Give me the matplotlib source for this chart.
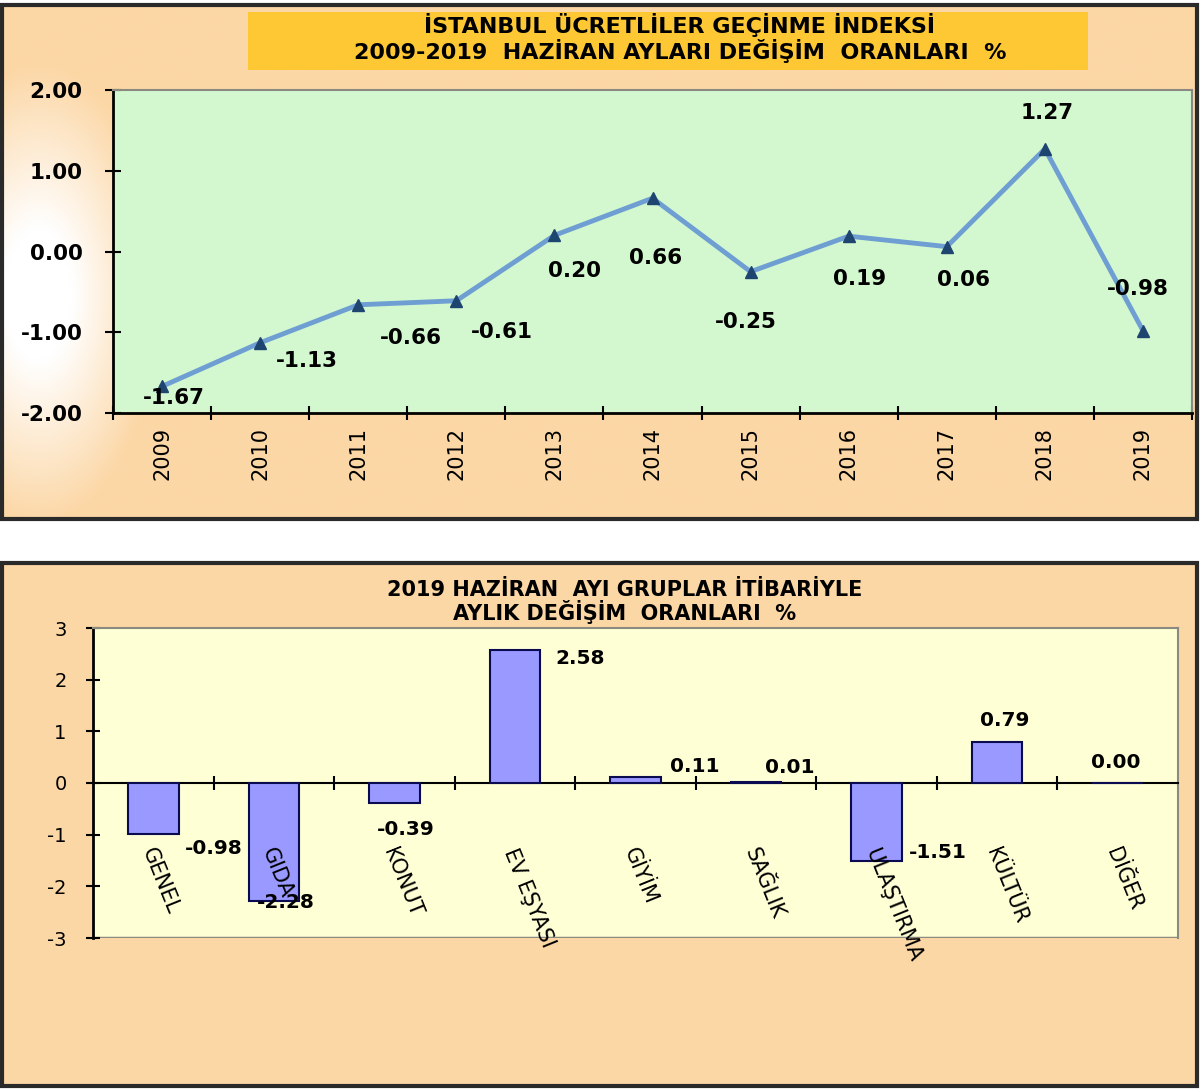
import numpy as np
import matplotlib
matplotlib.use("Agg")
import matplotlib.pyplot as plt
from matplotlib.patches import Rectangle

# --- data ---
years = ["2009", "2010", "2011", "2012", "2013", "2014", "2015", "2016", "2017", "2018", "2019"]
yearly_change = [-1.67, -1.13, -0.66, -0.61, 0.20, 0.66, -0.25, 0.19, 0.06, 1.27, -0.98]
top_yticks = [-2, -1, 0, 1, 2]
top_ytick_labels = ["-2.00", "-1.00", "0.00", "1.00", "2.00"]

groups = ["GENEL", "GIDA", "KONUT", "EV EŞYASI", "GİYİM", "SAĞLIK", "ULAŞTIRMA", "KÜLTÜR", "DİĞER"]
group_change = [-0.98, -2.28, -0.39, 2.58, 0.11, 0.01, -1.51, 0.79, 0.00]
bottom_yticks = [-3, -2, -1, 0, 1, 2, 3]

top_title = "İSTANBUL ÜCRETLİLER GEÇİNME İNDEKSİ\n2009-2019  HAZİRAN AYLARI DEĞİŞİM  ORANLARI  %"
bottom_title = "2019 HAZİRAN  AYI GRUPLAR İTİBARİYLE\nAYLIK DEĞİŞİM  ORANLARI  %"

# label offsets in pixels (layout only)
line_label_off = [(12, -12), (47, -18), (53, -33), (46, -31), (20, -36), (3, -60),
                  (-5, -50), (11, -43), (17, -33), (2, 36), (-5, 42)]
bar_label_off = [(60, -15), (12, -2), (11, -26), (65, -9), (59, 11), (34, 15),
                 (61, 9), (8, 22), (-2, 21)]

plt.rcParams["font.family"] = ["DejaVu Sans"]

W, H = 1200, 1090
fig = plt.figure(figsize=(W / 100, H / 100), dpi=100)
fig.patch.set_facecolor("white")

def fx(px):
    return px / W

def fy(py):
    return 1 - py / H

peach = "#FCD7A6"

# top panel background with soft white glow on the left
bg = fig.add_axes([fx(2), fy(519), fx(1195), (519 - 5) / H], zorder=0)
gx, gy = np.meshgrid(np.linspace(0, 1195, 400), np.linspace(0, 514, 200))
d = np.sqrt(((gx - 35) / 120) ** 2 + ((gy - 290) / 230) ** 2)
a = np.clip(1.4 * (1 - d), 0, 1)[..., None]
c_peach = np.array([252, 215, 166]) / 255
img = c_peach * (1 - a) + np.array([1, 1, 1]) * a
bg.imshow(img, extent=[0, 1, 0, 1], aspect="auto", origin="upper")
bg.set_axis_off()
fig.patches.append(Rectangle((fx(2), fy(519)), fx(1195), (519 - 5) / H, transform=fig.transFigure,
                             fill=False, edgecolor="#2a2a2a", linewidth=3, zorder=1))

# bottom panel background
fig.patches.append(Rectangle((fx(2), fy(1086)), fx(1195), (1086 - 563) / H, transform=fig.transFigure,
                             facecolor=peach, edgecolor="#2a2a2a", linewidth=3, zorder=0))

# title box top
fig.patches.append(Rectangle((fx(248), fy(70)), fx(840), 58 / H, transform=fig.transFigure,
                             facecolor="#FDC833", edgecolor="none", zorder=1))
fig.text(fx(680), fy(38), top_title, ha="center", va="center", fontsize=16,
         fontweight="bold", linespacing=1.1, zorder=3)

# --- top line chart ---
ax1 = fig.add_axes([fx(113), fy(413), fx(1192 - 113), (413 - 90) / H], zorder=2)
ax1.set_facecolor("#D3F8D0")
x1 = np.arange(len(years))
ax1.plot(x1, yearly_change, color="#6F9FD2", linewidth=3.5, zorder=3)
ax1.plot(x1, yearly_change, linestyle="none", marker="^", markersize=8,
         color="#1E4470", zorder=4)
for xi, v, off in zip(x1, yearly_change, line_label_off):
    ax1.annotate(f"{v:.2f}", (xi, v), xytext=off, textcoords="offset pixels",
                 ha="center", va="center", fontsize=15.5, fontweight="bold", zorder=5)
ax1.set_xlim(-0.5, len(years) - 0.5)
ax1.set_ylim(-2, 2)
ax1.set_yticks(top_yticks)
ax1.set_yticklabels(top_ytick_labels, fontsize=15.5, fontweight="bold")
ax1.set_xticks(np.arange(-0.5, len(years), 1))
ax1.set_xticklabels([])
ax1.set_xticks(x1, minor=True)
ax1.set_xticklabels(years, minor=True, rotation=90, fontsize=15)
ax1.tick_params(axis="x", which="minor", length=0, pad=10)
ax1.tick_params(axis="x", which="major", direction="inout", length=10, width=1.5)
ax1.tick_params(axis="y", direction="inout", length=12, width=1.5, pad=16)
for s in ["left", "bottom"]:
    ax1.spines[s].set_linewidth(2)
    ax1.spines[s].set_color("black")
for s in ["top", "right"]:
    ax1.spines[s].set_linewidth(1.5)
    ax1.spines[s].set_color("#8a8a80")

# --- bottom bar chart ---
fig.text(fx(625), fy(602), bottom_title, ha="center", va="center", fontsize=15,
         fontweight="bold", linespacing=1.05)
ax2 = fig.add_axes([fx(93), fy(938), fx(1178 - 93), (938 - 628) / H], zorder=2)
ax2.set_facecolor("#FFFFD6")
x2 = np.arange(len(groups))
ax2.bar(x2, group_change, width=0.42, color="#9999FF", edgecolor="#0A0A50",
        linewidth=1.5, zorder=3)
for xi, v, off in zip(x2, group_change, bar_label_off):
    ax2.annotate(f"{v:.2f}", (xi, v), xytext=off, textcoords="offset pixels",
                 ha="center", va="center", fontsize=14.5, fontweight="bold", zorder=5)
for xi, name in zip(x2, groups):
    ax2.annotate(name, (xi, 0), xytext=(-6, -66), textcoords="offset pixels",
                 ha="left", va="center", rotation=-68, rotation_mode="anchor",
                 fontsize=15, zorder=5)
ax2.set_xlim(-0.5, len(groups) - 0.5)
ax2.set_ylim(-3, 3)
ax2.set_yticks(bottom_yticks)
ax2.set_yticklabels([str(t) for t in bottom_yticks], fontsize=14)
ax2.set_xticks(np.arange(0.5, len(groups) - 0.5, 1))
ax2.set_xticklabels([])
ax2.spines["bottom"].set_position(("data", 0))
ax2.spines["bottom"].set_linewidth(1.5)
ax2.spines["left"].set_linewidth(2)
for s in ["top", "right"]:
    ax2.spines[s].set_linewidth(1.5)
    ax2.spines[s].set_color("#8a8a80")
ax2.axhline(-3, color="#8a8a80", linewidth=2.5, zorder=1)
ax2.tick_params(axis="x", direction="inout", length=10, width=1.5)
ax2.tick_params(axis="y", direction="inout", length=10, width=1.5, pad=14)

fig.savefig("out.png", dpi=100)
